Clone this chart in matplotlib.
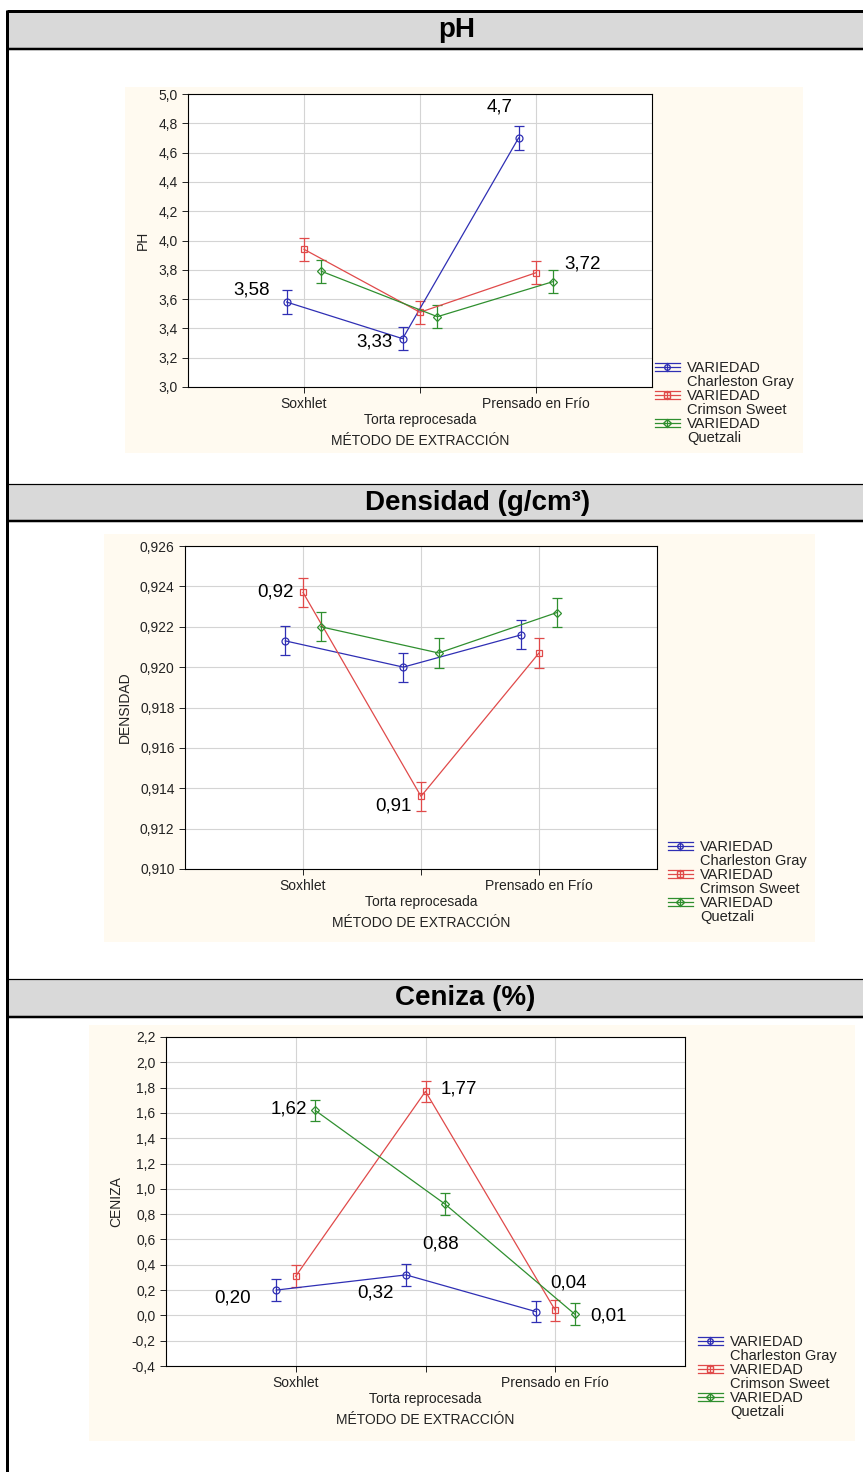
import matplotlib
matplotlib.use("Agg")
import matplotlib.pyplot as plt
from matplotlib.lines import Line2D
from matplotlib.patches import Rectangle
from matplotlib.legend_handler import HandlerBase
from matplotlib.ticker import FuncFormatter, MultipleLocator
import numpy as np

plt.rcParams['font.family'] = ['Liberation Sans', 'DejaVu Sans']

# categories / series
metodos = ['Soxhlet', 'Torta reprocesada', 'Prensado en Frío']
variedades = ['Charleston Gray', 'Crimson Sweet', 'Quetzali']

# pH means and error half-width
ph_cg = [3.58, 3.33, 4.70]
ph_cs = [3.94, 3.51, 3.78]
ph_qz = [3.79, 3.48, 3.72]
ph_err = 0.08

# densidad (g/cm3)
dens_cg = [0.9213, 0.9200, 0.9216]
dens_cs = [0.9237, 0.9136, 0.9207]
dens_qz = [0.9220, 0.9207, 0.9227]
dens_err = 0.00072

# ceniza (%)
cen_cg = [0.20, 0.32, 0.03]
cen_cs = [0.31, 1.77, 0.04]
cen_qz = [1.62, 0.88, 0.01]
cen_err = 0.085

W, H = 863, 1472
fig = plt.figure(figsize=(W / 100, H / 100), dpi=100)
fig.patch.set_facecolor('white')

colores = ['#2f2fb4', '#e04a4a', '#2f8f2f']
marcadores = ['o', 's', 'D']
msizes = [5, 5, 4]
desplaz = [-0.15, 0.0, 0.15]
PX = 0.72  # points per pixel


def box(l, t, r, b):
    return [l / W, 1 - b / H, (r - l) / W, (b - t) / H]


def fline(x0, y0, x1, y1, lw):
    fig.add_artist(Line2D([x0 / W, x1 / W], [1 - y0 / H, 1 - y1 / H],
                          transform=fig.transFigure, color='black',
                          lw=lw * PX, solid_capstyle='butt'))


class ErrHandle(HandlerBase):
    def create_artists(self, legend, orig, xd, yd, width, height, fontsize, trans):
        c = orig.get_color()
        x0, x1 = -xd, -xd + width
        ym = -yd + height / 2
        h = height * 0.42
        arts = [Line2D([x0, x1], [y, y], color=c, lw=0.9) for y in (ym - h, ym, ym + h)]
        xm = (x0 + x1) / 2
        arts.append(Line2D([xm, xm], [ym - h, ym + h], color=c, lw=0.9))
        arts.append(Line2D([xm], [ym], marker=orig.get_marker(), markersize=4,
                           mfc='none', mec=c, lw=0))
        for a in arts:
            a.set_transform(trans)
        return arts


class Blank(HandlerBase):
    def create_artists(self, legend, orig, xd, yd, width, height, fontsize, trans):
        a = Line2D([], [], visible=False)
        a.set_transform(trans)
        return [a]


# table frame: gray header rows and borders
cabeceras = [(12, 48), (484, 521), (979, 1017)]
titulos = ['pH', 'Densidad (g/cm³)', 'Ceniza (%)']
titulo_x = [457, 478, 465]
for (t, b), titulo, tx in zip(cabeceras, titulos, titulo_x):
    fig.add_artist(Rectangle((7 / W, 1 - b / H), (W - 7) / W, (b - t) / H,
                             transform=fig.transFigure, facecolor='#d9d9d9',
                             edgecolor='none'))
    fig.text(tx / W, 1 - (t + b) / 2 / H, titulo, ha='center', va='center',
             fontsize=20, fontweight='bold')
fline(7, 11, W, 11, 3)
fline(7, 48.5, W, 48.5, 2.5)
fline(7, 484, W, 484, 1.2)
fline(7, 521, W, 521, 2.5)
fline(7, 979, W, 979, 1.2)
fline(7, 1017, W, 1017, 2.5)
fline(7, 10, 7, H, 3)

paneles = [
    dict(datos=[ph_cg, ph_cs, ph_qz], err=ph_err, crema=(125, 87, 803, 453),
         ejes=(188, 94, 652, 387), ylim=(3.0, 5.0), paso=0.2, dec=1, ylabel='PH',
         leyenda=(655, 361),
         etiquetas=[(0, 0, 2, -35, -12), (0, 1, 2, -28, 3), (0, 2, 1, -19, -31),
                    (2, 2, 2, 29, -18)]),
    dict(datos=[dens_cg, dens_cs, dens_qz], err=dens_err, crema=(104, 534, 815, 942),
         ejes=(185, 546, 657, 869), ylim=(0.910, 0.926), paso=0.002, dec=3,
         ylabel='DENSIDAD', leyenda=(668, 840),
         etiquetas=[(1, 0, 2, -28, 0), (1, 1, 2, -28, 10)]),
    dict(datos=[cen_cg, cen_cs, cen_qz], err=cen_err, crema=(89, 1025, 855, 1441),
         ejes=(166, 1037, 685, 1366), ylim=(-0.4, 2.2), paso=0.2, dec=1,
         ylabel='CENIZA', leyenda=(698, 1335),
         etiquetas=[(2, 0, 2, -26, -1), (1, 1, 2, 33, -2), (2, 1, 2, -4, 40),
                    (0, 0, 2, -44, 8), (0, 1, 2, -31, 18), (1, 2, 2, 13, -27),
                    (2, 2, 2, 34, 2)]),
]

x = np.arange(1, len(metodos) + 1)


def fmt_coma(dec):
    def f(v, pos):
        if abs(v) < 1e-9:
            v = 0.0
        return f"{v:.{dec}f}".replace('.', ',')
    return FuncFormatter(f)


for p in paneles:
    l, t, r, b = p['crema']
    fig.add_artist(Rectangle((l / W, 1 - b / H), (r - l) / W, (b - t) / H,
                             transform=fig.transFigure, facecolor='#fffaf0',
                             edgecolor='none', zorder=0))
    ax = fig.add_axes(box(*p['ejes']))
    ax.set_facecolor('white')

    proxies = []
    for serie, col, mk, ms, dx in zip(p['datos'], colores, marcadores, msizes, desplaz):
        ax.errorbar(x + dx, serie, yerr=p['err'], color=col, lw=0.9, elinewidth=0.9,
                    capsize=3.8, capthick=0.9, marker=mk, markersize=ms,
                    mfc='none', mec=col, mew=0.9, zorder=3)
        proxies.append(Line2D([], [], color=col, marker=mk))

    for s, c, d, ox, oy in p['etiquetas']:
        v = p['datos'][s][c]
        txt = f"{v:.{d}f}".replace('.', ',')
        ax.annotate(txt, xy=(x[c] + desplaz[s], v), xytext=(ox * PX, -oy * PX),
                    textcoords='offset points', ha='center', va='center',
                    fontsize=13.5, zorder=5)

    ax.set_xlim(0, 4)
    ax.set_ylim(*p['ylim'])
    ax.yaxis.set_major_locator(MultipleLocator(p['paso']))
    ax.yaxis.set_major_formatter(fmt_coma(p['dec']))
    ax.set_xticks(x)
    ax.set_xticklabels(['Soxhlet', '\nTorta reprocesada', 'Prensado en Frío'])
    ax.grid(True, color='#d4d4d4', lw=0.8)
    ax.set_axisbelow(True)
    ax.tick_params(axis='both', labelsize=10, colors='#222222', length=4, width=0.7)
    ax.tick_params(axis='x', pad=3)
    for sp in ax.spines.values():
        sp.set_linewidth(0.8)
    ax.set_xlabel('MÉTODO DE EXTRACCIÓN', fontsize=10, color='#222222', labelpad=5)
    ax.set_ylabel(p['ylabel'], fontsize=10, color='#222222', labelpad=6)

    handles, labels = [], []
    for pr, var in zip(proxies, variedades):
        handles += [pr, Line2D([], [])]
        labels += ['VARIEDAD', var]
    lx, ly = p['leyenda']
    hmap = {h: (ErrHandle() if h in proxies else Blank()) for h in handles}
    fig.legend(handles, labels, loc='upper left',
               bbox_to_anchor=(lx / W, 1 - ly / H), bbox_transform=fig.transFigure,
               frameon=False, fontsize=10.5, labelspacing=0.0, handlelength=1.7,
               handletextpad=0.5, borderpad=0, borderaxespad=0, handler_map=hmap,
               labelcolor='#222222')

fig.savefig('out.png', dpi=100, facecolor='white')
